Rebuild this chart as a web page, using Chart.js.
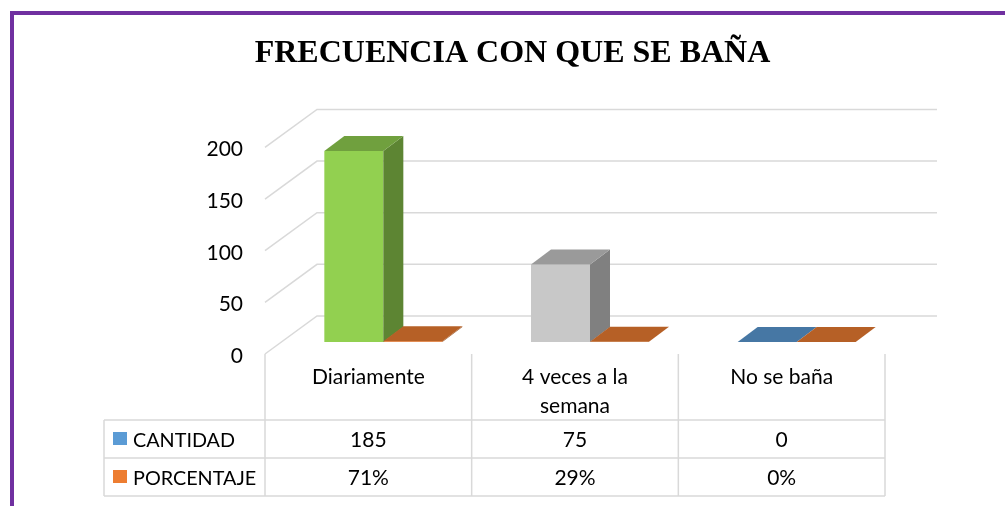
<!DOCTYPE html>
<html><head><meta charset="utf-8">
<script src="https://cdn.jsdelivr.net/npm/chart.js@4.4.1/dist/chart.umd.min.js"></script>
<style>html,body{margin:0;padding:0;background:#fff;overflow:hidden}canvas{display:block}</style>
</head><body>
<canvas id="c" width="1005" height="506"></canvas>
<script>
// ---- data ----
const titleText = 'FRECUENCIA CON QUE SE BAÑA';
const categories = ['Diariamente', ['4 veces a la', 'semana'], 'No se baña'];
const seriesNames = ['CANTIDAD', 'PORCENTAJE'];
const cantidad = [185, 75, 0];
const porcentaje = [0.71, 0.29, 0];
const porcentajeLabels = ['71%', '29%', '0%'];
const yTicks = [0, 50, 100, 150, 200];
const pointColors = ['#92D050', '#C8C8C8', '#5B9BD5'];
const seriesColors = ['#5B9BD5', '#ED7D31'];

// ---- styling / geometry ----
const FONT = 'Lato';
const FS = 21;
const FS_LEGEND = 19.8;
const GRID = '#D9D9D9';
const FRONT = { dx: -15, dy: 12 };   // front plane relative to bar plane
const BACK = { dx: 37, dy: -26 };    // back wall relative to bar plane
const DEPTH = { dx: 20, dy: -15 };   // bar depth
const tableRows = [66, 38, 38];
const legendLeft = 104;

function shade(hex, k) {
  const n = parseInt(hex.slice(1), 16);
  const r = Math.round(((n >> 16) & 255) * k), g = Math.round(((n >> 8) & 255) * k), b = Math.round((n & 255) * k);
  return 'rgb(' + r + ',' + g + ',' + b + ')';
}

const excel3d = {
  id: 'excel3d',
  beforeDraw(chart) {
    const c = chart.ctx;
    c.save();
    c.fillStyle = '#fff';
    c.fillRect(0, 0, chart.width, chart.height);
    c.fillStyle = '#7030A0';
    c.fillRect(10, 11, chart.width - 10, 4);
    c.fillRect(10, 11, 4, chart.height - 11);
    c.restore();
  },
  beforeDatasetsDraw(chart) {
    const c = chart.ctx, a = chart.chartArea, ys = chart.scales.y;
    c.save();
    c.strokeStyle = GRID;
    c.lineWidth = 1.5;
    yTicks.forEach(v => {
      const y = ys.getPixelForValue(v);
      c.beginPath();
      c.moveTo(a.left + FRONT.dx, y + FRONT.dy);
      c.lineTo(a.left + BACK.dx, y + BACK.dy);
      c.lineTo(a.right + BACK.dx, y + BACK.dy);
      c.stroke();
    });
    // tick labels on the front plane
    c.fillStyle = '#000';
    c.font = FS + 'px ' + FONT;
    c.textAlign = 'right';
    c.textBaseline = 'alphabetic';
    yTicks.forEach(v => {
      const y = ys.getPixelForValue(v) + FRONT.dy;
      c.fillText(String(v), 243, y + 9);
    });
    c.restore();
  },
  afterDatasetsDraw(chart) {
    const c = chart.ctx;
    c.save();
    chart.data.datasets.forEach((ds, di) => {
      const meta = chart.getDatasetMeta(di);
      meta.data.forEach((el, i) => {
        const p = el.getProps(['x', 'y', 'base', 'width'], true);
        const l = p.x - p.width / 2, r = p.x + p.width / 2;
        const col = Array.isArray(ds.backgroundColor) ? ds.backgroundColor[i] : ds.backgroundColor;
        if (p.base - p.y > 0.5) {
          c.fillStyle = shade(col, 0.64);
          c.beginPath();
          c.moveTo(r, p.y);
          c.lineTo(r + DEPTH.dx, p.y + DEPTH.dy);
          c.lineTo(r + DEPTH.dx, p.base + DEPTH.dy);
          c.lineTo(r, p.base);
          c.closePath();
          c.fill();
        }
        c.fillStyle = shade(col, 0.77);
        c.beginPath();
        c.moveTo(l, p.y);
        c.lineTo(l + DEPTH.dx, p.y + DEPTH.dy);
        c.lineTo(r + DEPTH.dx, p.y + DEPTH.dy);
        c.lineTo(r, p.y);
        c.closePath();
        c.fill();
      });
    });
    c.restore();
  },
  afterDraw(chart) {
    const c = chart.ctx, a = chart.chartArea, xs = chart.scales.x, ys = chart.scales.y;
    const n = categories.length;
    const catW = (a.right - a.left) / n;
    const left = a.left + FRONT.dx, right = a.right + FRONT.dx;
    const top = ys.getPixelForValue(0) + FRONT.dy;
    const r1 = top + tableRows[0], r2 = r1 + tableRows[1], r3 = r2 + tableRows[2];
    c.save();
    c.strokeStyle = GRID;
    c.lineWidth = 1.5;
    c.beginPath();
    for (let i = 0; i <= n; i++) {
      const x = left + i * catW;
      c.moveTo(x, top); c.lineTo(x, r3);
    }
    [r1, r2, r3].forEach(y => { c.moveTo(legendLeft, y); c.lineTo(right, y); });
    c.moveTo(legendLeft, r1); c.lineTo(legendLeft, r3);
    c.stroke();

    c.fillStyle = '#000';
    c.font = FS + 'px ' + FONT;
    c.textBaseline = 'alphabetic';
    c.textAlign = 'center';
    categories.forEach((lab, i) => {
      const cx = xs.getPixelForValue(i) + FRONT.dx;
      const lines = Array.isArray(lab) ? lab : [lab];
      lines.forEach((t, k) => c.fillText(t, cx, top + 30 + k * 29));
      c.fillText(String(cantidad[i]), cx, r1 + 26.5);
      c.fillText(porcentajeLabels[i], cx, r2 + 26.5);
    });
    // legend keys
    c.textAlign = 'left';
    c.font = FS_LEGEND + 'px ' + FONT;
    const rowsY = [r1, r2];
    seriesNames.forEach((s, k) => {
      c.fillStyle = seriesColors[k];
      c.fillRect(113, rowsY[k] + 12, 14, 13);
      c.fillStyle = '#000';
      c.fillText(s, 133, rowsY[k] + 26.5);
    });
    c.restore();
  }
};

new Chart(document.getElementById('c'), {
  type: 'bar',
  data: {
    labels: categories,
    datasets: [
      { label: seriesNames[0], data: cantidad, backgroundColor: pointColors, borderWidth: 0 },
      { label: seriesNames[1], data: porcentaje, backgroundColor: seriesColors[1], borderWidth: 0 }
    ]
  },
  options: {
    responsive: false,
    animation: false,
    devicePixelRatio: 1,
    categoryPercentage: 0.571,
    barPercentage: 1,
    layout: { padding: { left: 20, right: 0, top: 0, bottom: 164 } },
    plugins: {
      legend: { display: false },
      tooltip: { enabled: false },
      title: {
        display: true,
        text: titleText,
        color: '#000',
        font: { family: 'Liberation Serif', size: 32, weight: 'bold', lineHeight: 1.2 },
        padding: { top: 34.8, bottom: 62.2 }
      }
    },
    scales: {
      x: { display: false },
      y: {
        position: 'left', min: 0, max: 200,
        ticks: { display: false, stepSize: 50 },
        grid: { display: false }, border: { display: false },
        afterFit: s => { s.width = 260; }
      },
      yR: {
        position: 'right', display: true,
        ticks: { display: false }, grid: { display: false }, border: { display: false },
        afterFit: s => { s.width = 105; }
      }
    }
  },
  plugins: [excel3d]
});
</script>
</body></html>
